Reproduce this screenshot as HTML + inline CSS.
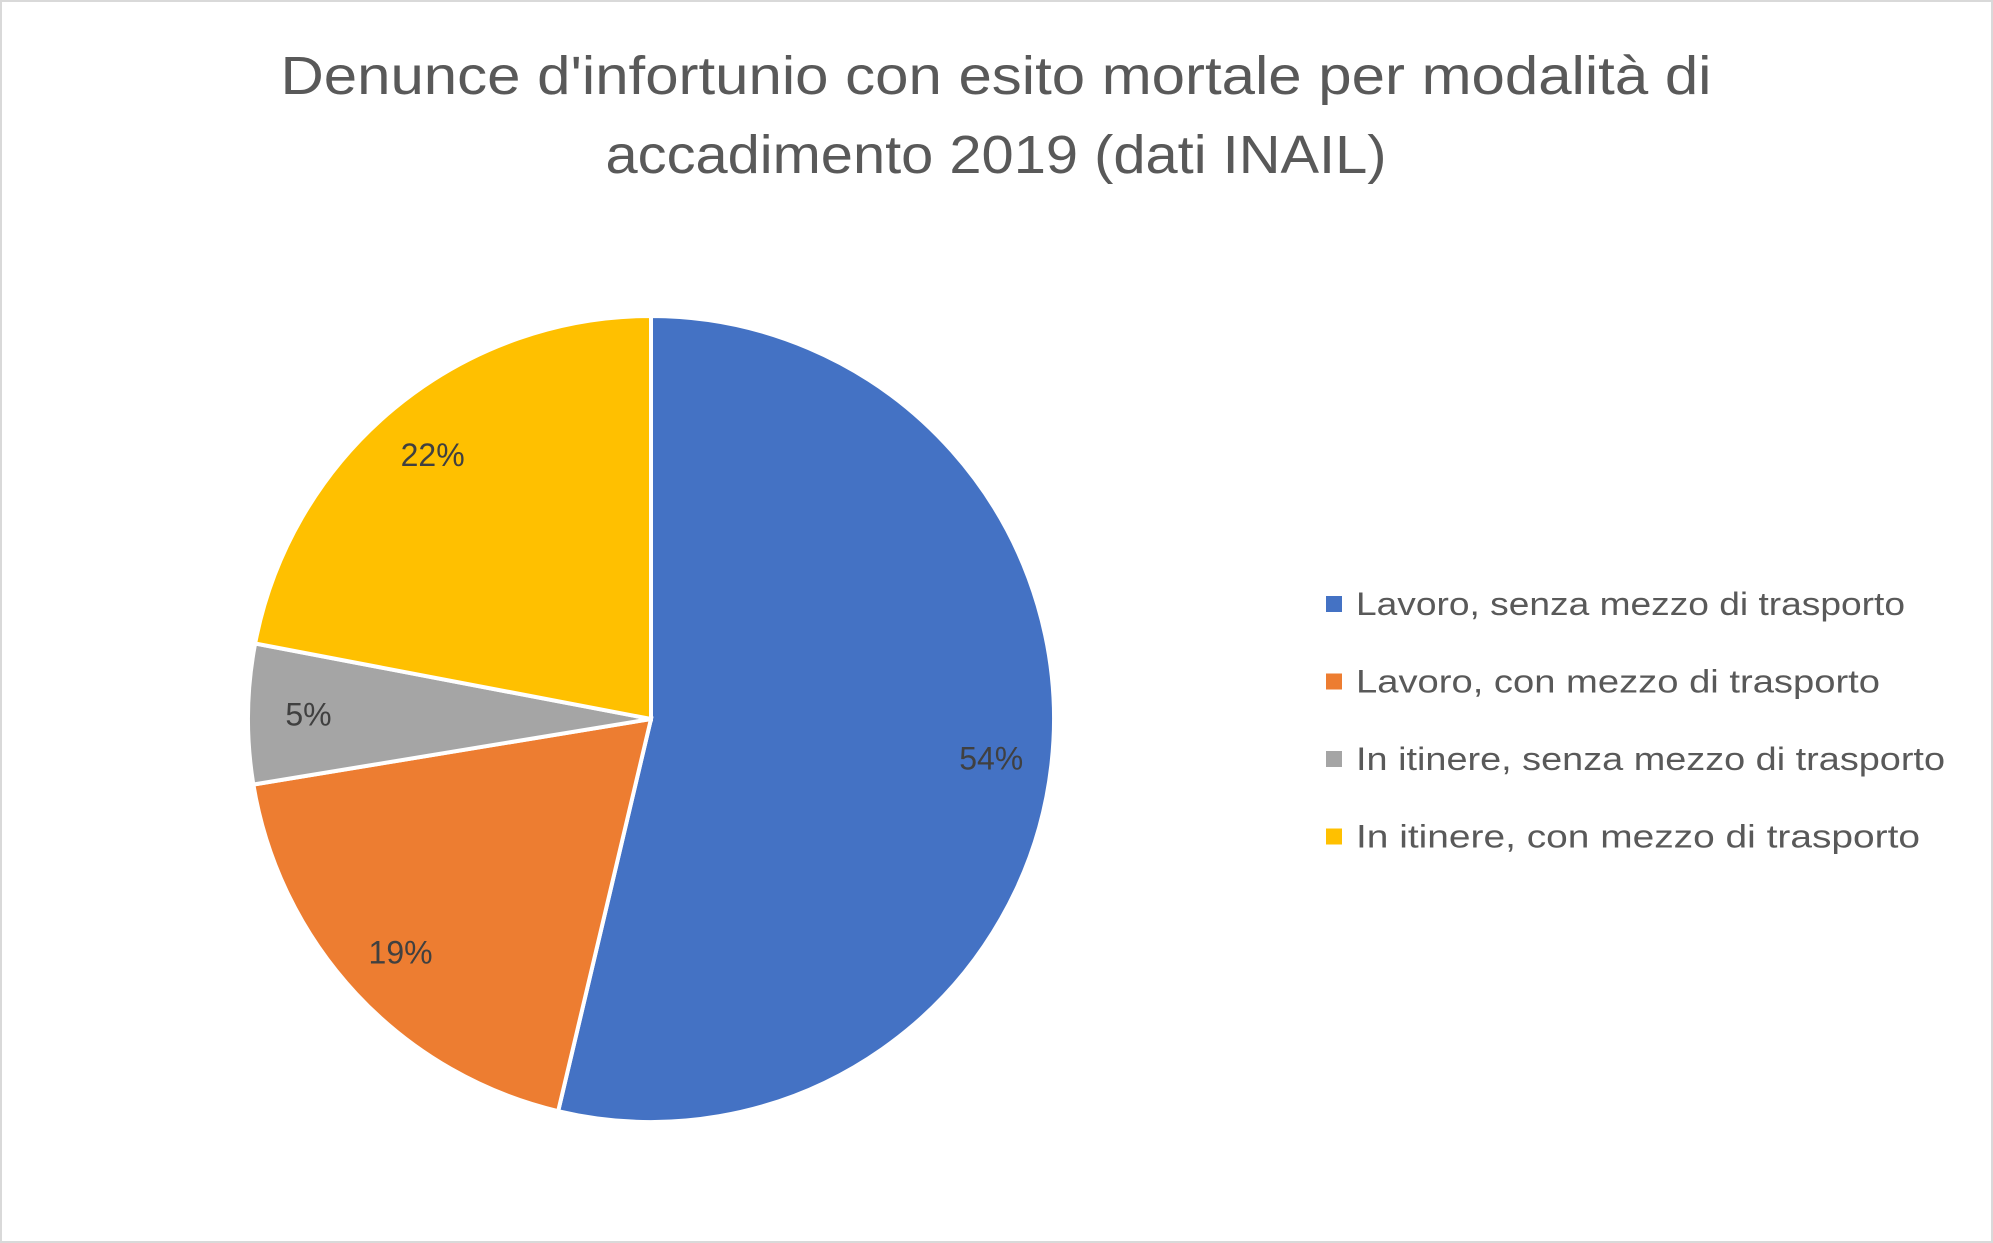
<!DOCTYPE html>
<html><head><meta charset="utf-8"><style>
html,body{margin:0;padding:0;background:#fff;}
svg{display:block;font-family:"Liberation Sans",sans-serif;}
</style></head><body>
<svg id="chart" width="1993" height="1243" viewBox="0 0 1993 1243">
<rect x="1" y="1" width="1991" height="1241" fill="#fff" stroke="#d9d9d9" stroke-width="2"/>
<text x="996" y="94" text-anchor="middle" font-size="54" fill="#595959" textLength="1431" lengthAdjust="spacingAndGlyphs">Denunce d'infortunio con esito mortale per modalità di</text>
<text x="996" y="173" text-anchor="middle" font-size="54" fill="#595959" textLength="781" lengthAdjust="spacingAndGlyphs">accadimento 2019 (dati INAIL)</text>
<g id="slices"></g>
<g id="labels"></g>
<g id="legend"></g>
</svg>
<script>
const categories = ["Lavoro, senza mezzo di trasporto","Lavoro, con  mezzo di trasporto","In itinere, senza mezzo di trasporto","In itinere, con  mezzo di trasporto"];
const values = [53.7, 18.7, 5.6, 22.0];
const valueLabels = ["54%","19%","5%","22%"];
const colors = ["#4472c4","#ed7d31","#a5a5a5","#ffc000"];
const legendWidths = [549, 524, 589, 564];

const NS = "http://www.w3.org/2000/svg";
const cx = 651, cy = 719, r = 403;
const total = values.reduce((a,b)=>a+b,0);
function pt(frac, rad){ const a = frac*2*Math.PI; return [cx + rad*Math.sin(a), cy - rad*Math.cos(a)]; }
const gS = document.getElementById("slices"), gL = document.getElementById("labels"), gG = document.getElementById("legend");
let acc = 0;
values.forEach((v,i)=>{
  const f0 = acc/total, f1 = (acc+v)/total; acc += v;
  const [x0,y0] = pt(f0,r), [x1,y1] = pt(f1,r);
  const large = (f1-f0) > 0.5 ? 1 : 0;
  const p = document.createElementNS(NS,"path");
  p.setAttribute("d",`M${cx},${cy} L${x0},${y0} A${r},${r} 0 ${large} 1 ${x1},${y1} Z`);
  p.setAttribute("fill",colors[i]); p.setAttribute("stroke","#fff"); p.setAttribute("stroke-width","4");
  
  
  gS.appendChild(p);
  const [lx,ly] = pt((f0+f1)/2, r*0.85);
  const t = document.createElementNS(NS,"text");
  t.setAttribute("x",lx); t.setAttribute("y",ly+11); t.setAttribute("text-anchor","middle");
  t.setAttribute("font-size","32"); t.setAttribute("fill","#404040");
  t.textContent = valueLabels[i];
  
  
  gL.appendChild(t);
  const ly2 = 604 + i*77.5;
  const sq = document.createElementNS(NS,"rect");
  sq.setAttribute("x",1326); sq.setAttribute("y",ly2-8); sq.setAttribute("width",16); sq.setAttribute("height",16);
  sq.setAttribute("fill",colors[i]);
  
  
  gG.appendChild(sq);
  const lt = document.createElementNS(NS,"text");
  lt.setAttribute("x",1356); lt.setAttribute("y",ly2+11); lt.setAttribute("font-size","32"); lt.setAttribute("fill","#595959");
  lt.setAttribute("textLength",legendWidths[i]); lt.setAttribute("lengthAdjust","spacingAndGlyphs");
  lt.textContent = categories[i];
  
  
  gG.appendChild(lt);
});
</script>
</body></html>
